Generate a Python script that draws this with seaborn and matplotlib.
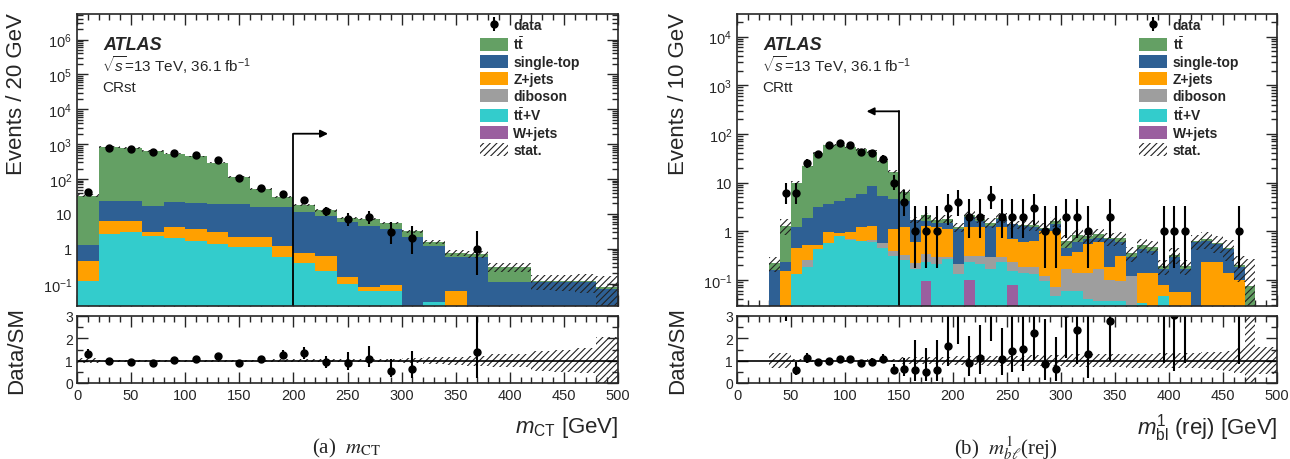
import numpy as np
import pandas as pd
import matplotlib
matplotlib.use('Agg')
import matplotlib.pyplot as plt
import matplotlib.ticker as mticker
from matplotlib.patches import Patch
import seaborn as sns

# processes, top of the stack first
procs = ['ttbar', 'single-top', 'Z+jets', 'diboson', 'ttV', 'W+jets']
labels = [r'$\mathbf{t}\bar{\mathbf{t}}$', 'single-top', 'Z+jets', 'diboson',
          r'$\mathbf{t}\bar{\mathbf{t}}$+V', 'W+jets']
colors = ['#64a064', '#2e6094', '#ffa000', '#9e9e9e', '#33cccc', '#9a5f9f']

# (a) m_CT in CRst, 20 GeV bins
a_edges = np.arange(0, 501, 20)
a_tt = [31.7, 796, 756, 628, 518, 424, 275, 97, 36, 14, 7, 3.7, 1.9, 2.7, 1.8,
        1.0, 0.4, 0.19, 0.14, 0.19, 0.19, 0.01, 0.01, 0.01, 0.01]
a_st = [0.85, 17.4, 17.4, 13.9, 17.7, 17.3, 16.4, 17.3, 13.8, 14.8, 10.7, 8.3, 5.74, 4.52, 3.6,
        2.2, 1.17, 0.52, 0.58, 0.11, 0.11, 0.11, 0.11, 0.11, 0.07]
a_z = [0.33, 3.6, 3.2, 0.7, 2.2, 2.0, 1.7, 1.05, 1.05, 0.62, 0.37, 0.4, 0.06, 0.02, 0.033,
       0, 0, 0.06, 0, 0, 0, 0, 0, 0, 0]
a_db = [0] * 25
a_ttv = [0.12, 2.7, 3.1, 2.4, 2.1, 1.7, 1.4, 1.15, 1.15, 0.58, 0.4, 0.23, 0.1, 0.06, 0.06,
         0, 0.03, 0, 0, 0, 0, 0, 0, 0, 0]
a_wj = [0] * 25
a_data = [43, 800, 740, 580, 550, 480, 350, 105, 55, 38, 25, 12, 7, 8, 3,
          2, 0, 0, 1, 0, 0, 0, 0, 0, 0]
a_stat = [0.1, 0.05, 0.05, 0.05, 0.05, 0.05, 0.05, 0.05, 0.05, 0.06, 0.07, 0.08, 0.08, 0.08, 0.08,
          0.1, 0.15, 0.18, 0.22, 0.28, 0.3, 0.45, 0.5, 0.55, 1.05]

# (b) m_bl^1(rej) in CRtt, 10 GeV bins
b_edges = np.arange(0, 501, 10)
b_tt = [0, 0, 0, 0.06, 1.07, 8.8, 20.1, 37.5, 54, 56, 49.1, 42, 34.5, 23, 12.2,
        2.2, 0, 0.5, 0.2, 0.3, 0.1, 0.2, 0.2, 0.2, 0.1, 0, 0.03, 0.15, 0.05, 0.2,
        0.18, 0.25, 0.1, 0.13, 0.04, 0.15, 0.05, 0.09, 0.08, 0.02, 0.03, 0.02, 0.04, 0.06, 0.04,
        0.02, 0.02, 0.075, 0, 0]
b_st = [0, 0, 0, 0.16, 0.08, 0.74, 1.38, 2.58, 2.63, 3.3, 3.96, 4.6, 7.2, 4.74, 3.4,
        3.0, 1.1, 0.3, 0.3, 0.4, 0.89, 0.8, 0.4, 1.0, 0.6, 0.71, 0.71, 0.57, 0.1, 0.4,
        0.15, 0.22, 0.14, 0.15, 0.5, 0.28, 0.18, 0.29, 0.26, 0.09, 0.245, 0.115, 0.59, 0.4, 0.31,
        0.29, 0.08, 0, 0, 0]
b_z = [0, 0, 0, 0, 0.15, 0.33, 0.27, 0.09, 0.39, 0.1, 0.24, 0.57, 0.65, 0, 0.7,
       0.88, 0.38, 0.96, 0.9, 0.8, 0, 0.89, 0.89, 0, 0.9, 0.46, 0.41, 0.45, 0.88, 0.93,
       0.14, 0.23, 0.4, 0.42, 0.08, 0.215, 0, 0.106, 0.14, 0.033, 0.055, 0.055, 0, 0.23, 0.23,
       0.14, 0.1, 0, 0, 0]
b_db = [0, 0, 0, 0, 0, 0, 0.07, 0, 0, 0, 0.05, 0, 0.05, 0.1, 0.09,
        0.07, 0.05, 0.11, 0.09, 0.03, 0.08, 0.08, 0.1, 0.13, 0.07, 0.08, 0.04, 0.05, 0.025, 0.023,
        0.11, 0.08, 0.1, 0.13, 0.063, 0.058, 0.09, 0, 0, 0, 0, 0, 0, 0, 0,
        0, 0, 0, 0, 0]
b_ttv = [0, 0, 0, 0, 0, 0.13, 0.18, 0.43, 0.58, 0.8, 0.65, 0.63, 0.6, 0.46, 0.31,
         0.25, 0.17, 0.135, 0.21, 0.27, 0.13, 0.13, 0.21, 0.17, 0.23, 0.072, 0.14, 0.13, 0.095, 0.047,
         0.06, 0.06, 0.04, 0.037, 0.037, 0.037, 0.03, 0.034, 0, 0.047, 0, 0, 0, 0, 0,
         0, 0, 0, 0, 0]
b_wj = [0] * 17 + [0.095, 0, 0, 0, 0.1, 0, 0, 0, 0.078] + [0] * 24
b_data = [0, 0, 0, 0, 6, 6, 25, 38, 58, 66, 58, 43, 41, 31, 10,
          4, 1, 1, 1, 3, 4, 2, 2, 5, 2, 2, 2, 3, 1, 1,
          2, 2, 1, 0, 2, 0, 0, 0, 0, 1, 1, 1, 0, 0, 0,
          0, 1, 0, 0, 0]
b_stat = [0, 0, 0, 0.35, 0.35, 0.06, 0.06, 0.05, 0.05, 0.05, 0.05, 0.05, 0.06, 0.06, 0.08,
          0.15, 0.15, 0.15, 0.15, 0.18, 0.2, 0.2, 0.2, 0.22, 0.22, 0.22, 0.22, 0.25, 0.25, 0.25,
          0.3, 0.3, 0.3, 0.3, 0.3, 0.3, 0.32, 0.32, 0.32, 0.35, 0.35, 0.35, 0.35, 0.38, 0.4,
          0.45, 0.55, 2.5, 0.6, 0.6]

# 68% Poisson (Garwood) intervals for small counts
garw_lo = {1: 0.173, 2: 0.708, 3: 1.367, 4: 2.086, 5: 2.840, 6: 3.620, 7: 4.419, 8: 5.232, 9: 6.057, 10: 6.891}
garw_hi = {1: 3.300, 2: 4.638, 3: 5.918, 4: 7.163, 5: 8.382, 6: 9.584, 7: 10.77, 8: 11.95, 9: 13.11, 10: 14.27}

sns.set_style('ticks')
plt.rcParams['font.family'] = ['Liberation Sans', 'DejaVu Sans']
plt.rcParams['mathtext.fontset'] = 'custom'
plt.rcParams['mathtext.rm'] = 'Liberation Sans'
plt.rcParams['mathtext.it'] = 'Liberation Sans:italic'
plt.rcParams['mathtext.bf'] = 'Liberation Sans:bold'
plt.rcParams['mathtext.sf'] = 'Liberation Sans'
plt.rcParams['hatch.linewidth'] = 0.8
plt.rcParams['axes.linewidth'] = 1.2


def pois_err(n):
    lo = np.zeros(len(n))
    hi = np.zeros(len(n))
    for i, k in enumerate(n):
        if k == 0:
            continue
        if k <= 10:
            lo[i] = k - garw_lo[k]
            hi[i] = garw_hi[k] - k
        else:
            lo[i] = hi[i] = np.sqrt(k)
    return lo, hi


def log_fmt(v, pos):
    e = int(round(np.log10(v)))
    if e == 0:
        return '1'
    if e == 1:
        return '10'
    return r'$10^{%d}$' % e


def style_axes(ax, rax, ylim):
    ax.set_xlim(0, 500)
    ax.set_yscale('log')
    ax.set_ylim(*ylim)
    ax.yaxis.set_major_locator(mticker.LogLocator(base=10, numticks=30))
    ax.yaxis.set_minor_locator(mticker.LogLocator(base=10, subs=np.arange(2, 10), numticks=30))
    ax.yaxis.set_major_formatter(mticker.FuncFormatter(log_fmt))
    ax.yaxis.set_minor_formatter(mticker.NullFormatter())
    for a in (ax, rax):
        a.xaxis.set_major_locator(mticker.MultipleLocator(50))
        a.xaxis.set_minor_locator(mticker.MultipleLocator(10))
        a.tick_params(which='both', direction='in', top=True, right=True, labelsize=10.5, width=1)
        a.tick_params(which='major', length=8)
        a.tick_params(which='minor', length=4)
        a.set_xlabel('')
        a.set_ylabel('')
    ax.tick_params(axis='x', labelbottom=False)
    rax.tick_params(axis='y', labelsize=10, pad=3)
    rax.set_xlim(0, 500)
    rax.set_ylim(0, 3)
    rax.yaxis.set_major_locator(mticker.MultipleLocator(1))
    rax.yaxis.set_minor_locator(mticker.MultipleLocator(0.5))


def draw_panel(ax, rax, edges, comps, data, stat, ylim, region, cut, tip, cut_y):
    centers = 0.5 * (edges[1:] + edges[:-1])
    nb = len(centers)
    df = pd.DataFrame({
        'x': np.tile(centers, len(procs)),
        'w': np.concatenate([np.asarray(c, float) for c in comps]),
        'proc': np.repeat(procs, nb),
    })
    sns.histplot(data=df, x='x', weights='w', hue='proc', hue_order=procs,
                 palette=dict(zip(procs, colors)), multiple='stack', bins=edges.tolist(),
                 element='bars', linewidth=0, alpha=1, legend=False, ax=ax)
    tot = np.sum(np.asarray(comps, float), axis=0)
    rel = np.asarray(stat, float)
    lo = np.where(tot > 0, np.maximum(tot * (1 - rel), 1e-4), 1e-6)
    hi = np.where(tot > 0, tot * (1 + rel), 1e-6)
    ax.fill_between(edges, np.append(lo, lo[-1]), np.append(hi, hi[-1]), step='post',
                    facecolor='none', edgecolor='#222222', hatch='/////', linewidth=0)

    n = np.asarray(data)
    elo, ehi = pois_err(n)
    m = n > 0
    dh = ax.errorbar(centers[m], n[m], yerr=[elo[m], ehi[m]], fmt='o', color='k',
                     ms=5, elinewidth=1.5, capsize=0)

    # cut arrow
    ax.plot([cut, cut], [ylim[0], cut_y], color='k', lw=1.3)
    ax.annotate('', xy=(tip, cut_y), xytext=(cut, cut_y),
                arrowprops=dict(arrowstyle='-|>', color='k', lw=1.3, shrinkA=0, shrinkB=0,
                                mutation_scale=11))

    # ratio panel
    rb_lo = np.where(rel > 0, 1 - rel, 1)
    rb_hi = np.where(rel > 0, 1 + rel, 1)
    rax.fill_between(edges, np.append(rb_lo, rb_lo[-1]), np.append(rb_hi, rb_hi[-1]), step='post',
                     facecolor='none', edgecolor='#222222', hatch='/////', linewidth=0)
    rax.axhline(1, color='k', lw=1.2)
    mr = m & (tot > 0)
    ratio = n[mr] / tot[mr]
    rax.errorbar(centers[mr], ratio, yerr=[elo[mr] / tot[mr], ehi[mr] / tot[mr]], fmt='o',
                 color='k', ms=5, elinewidth=1.5, capsize=0)

    style_axes(ax, rax, ylim)

    ax.text(0.048, 0.897, 'ATLAS', transform=ax.transAxes, fontsize=13, fontweight='bold',
            style='italic', va='center')
    ax.text(0.046, 0.829, r'$\sqrt{s}$=13 TeV, 36.1 fb$^{-1}$', transform=ax.transAxes,
            fontsize=11, va='center')
    ax.text(0.046, 0.75, region, transform=ax.transAxes, fontsize=11, va='center')

    handles = [dh] + [Patch(facecolor=c, edgecolor='none') for c in colors]
    handles.append(Patch(facecolor='none', edgecolor='#222222', hatch='/////', linewidth=0))
    ax.legend(handles, ['data'] + labels + ['stat.'], loc='upper left',
              bbox_to_anchor=(0.745, 0.985), frameon=False, prop={'weight': 'bold', 'size': 10},
              handlelength=2.0, handleheight=1.0, labelspacing=0.22, handletextpad=0.4,
              borderpad=0, borderaxespad=0)


fig = plt.figure(figsize=(12.9, 4.6), dpi=100)
W, H = 1290, 460
ax_a = fig.add_axes([77 / W, 1 - 307 / H, 541 / W, 292 / H])
rax_a = fig.add_axes([77 / W, 1 - 384 / H, 541 / W, 67 / H])
ax_b = fig.add_axes([737 / W, 1 - 307 / H, 540 / W, 292 / H])
rax_b = fig.add_axes([737 / W, 1 - 384 / H, 540 / W, 67 / H])

draw_panel(ax_a, rax_a, a_edges, [a_tt, a_st, a_z, a_db, a_ttv, a_wj], a_data, a_stat,
           (0.023, 5.4e6), 'CRst', 200, 232, 2000)
draw_panel(ax_b, rax_b, b_edges, [b_tt, b_st, b_z, b_db, b_ttv, b_wj], b_data, b_stat,
           (0.029, 2.9e4), 'CRtt', 150, 120, 290)

fig.text(17 / W, 1 - 13 / H, 'Events / 20 GeV', rotation=90, ha='center', va='top', fontsize=16)
fig.text(678 / W, 1 - 13 / H, 'Events / 10 GeV', rotation=90, ha='center', va='top', fontsize=16)
fig.text(17 / W, 1 - 350 / H, 'Data/SM', rotation=90, ha='center', va='center', fontsize=16)
fig.text(678 / W, 1 - 350 / H, 'Data/SM', rotation=90, ha='center', va='center', fontsize=16)
fig.text(618 / W, 1 - 428 / H, r'$m_{\mathrm{CT}}$ [GeV]', ha='right', va='center', fontsize=16)
fig.text(1277 / W, 1 - 428 / H, r'$m^{1}_{\mathrm{bl}}$ (rej) [GeV]', ha='right', va='center', fontsize=16)
fig.text(347 / W, 1 - 448 / H, r'(a)  $m_{\mathrm{CT}}$', ha='center', va='center', fontsize=15,
         family='Liberation Serif', math_fontfamily='stix')
fig.text(1006 / W, 1 - 448 / H, r'(b)  $m^{1}_{b\ell}$(rej)', ha='center', va='center', fontsize=15,
         family='Liberation Serif', math_fontfamily='stix')

fig.savefig('out.png', dpi=100)
